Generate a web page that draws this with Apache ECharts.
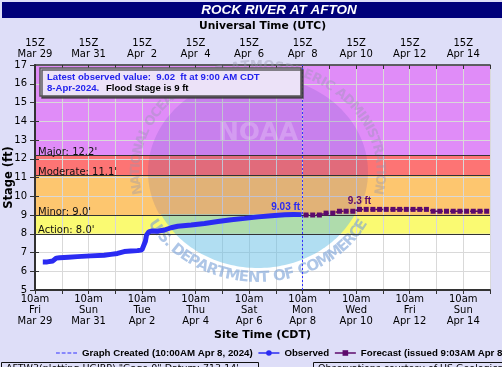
<!DOCTYPE html>
<html><head><meta charset="utf-8">
<script src="https://cdn.jsdelivr.net/npm/echarts@6/dist/echarts.min.js"></script>
<style>html,body{margin:0;padding:0;background:#dedef8;}#c{width:502px;height:367px;}</style>
</head><body><div id="c"></div>
<script>
// ---------------- DATA ----------------
const chartTitle = 'ROCK RIVER AT AFTON';
const obsTimes = ['03-29 17:00','03-29 21:00','03-30 02:00','03-30 05:00','03-30 08:00','03-30 16:00','03-31 00:00','03-31 12:00','04-01 00:00','04-01 06:00','04-01 12:00','04-01 18:00','04-02 00:00','04-02 06:00','04-02 10:00','04-02 11:00','04-02 13:00','04-02 14:00','04-02 16:00','04-02 19:00','04-03 00:00','04-03 06:00','04-03 12:00','04-03 18:00','04-04 06:00','04-04 18:00','04-05 06:00','04-05 18:00','04-06 06:00','04-06 18:00','04-07 06:00','04-07 18:00','04-08 02:00','04-08 09:00'];
const obsStage = [6.50,6.50,6.55,6.70,6.72,6.75,6.78,6.82,6.85,6.90,6.95,7.05,7.08,7.10,7.15,7.25,7.60,7.93,8.10,8.15,8.13,8.20,8.32,8.40,8.47,8.55,8.65,8.75,8.82,8.90,8.96,9.01,9.03,9.02];
const fcstTimes = ['04-08 13:00','04-08 19:00','04-09 01:00','04-09 07:00','04-09 13:00','04-09 19:00','04-10 01:00','04-10 07:00','04-10 13:00','04-10 19:00','04-11 01:00','04-11 07:00','04-11 13:00','04-11 19:00','04-12 01:00','04-12 07:00','04-12 13:00','04-12 19:00','04-13 01:00','04-13 07:00','04-13 13:00','04-13 19:00','04-14 01:00','04-14 07:00','04-14 13:00','04-14 19:00','04-15 01:00','04-15 07:00'];
const fcstStage = [9.0,9.0,9.0,9.1,9.1,9.2,9.2,9.2,9.3,9.3,9.3,9.3,9.3,9.3,9.3,9.3,9.3,9.3,9.3,9.2,9.2,9.2,9.2,9.2,9.2,9.2,9.2,9.2];
const graphCreatedTime = '04-08 10:00';
const floodNames = ['Action','Minor','Moderate','Major'];
const floodLevels = [8.0, 9.0, 11.1, 12.2];
const bottomTimes = ['10am','10am','10am','10am','10am','10am','10am','10am','10am'];
const bottomDays = ['Fri','Sun','Tue','Thu','Sat','Mon','Wed','Fri','Sun'];
const bottomDates = ['Mar 29','Mar 31','Apr 2','Apr 4','Apr 6','Apr 8','Apr 10','Apr 12','Apr 14'];
const topTimes = ['15Z','15Z','15Z','15Z','15Z','15Z','15Z','15Z','15Z'];
const topDates = ['Mar 29','Mar 31','Apr  2','Apr  4','Apr  6','Apr  8','Apr 10','Apr 12','Apr 14'];
const rightTicks = [5,6,7,8,9,10,11,12,13,14];
const stageMin = 5, stageMax = 17;

// ---------------- HELPERS ----------------
const T0 = Date.UTC(2024, 2, 29, 10, 0);
function hrs(s) {
  const m = s.match(/(\d+)-(\d+) (\d+):(\d+)/);
  return (Date.UTC(2024, +m[1]-1, +m[2], +m[3], +m[4]) - T0) / 3600000;
}
const obsData = obsTimes.map((t, i) => [hrs(t), obsStage[i]]);
const fcstData = fcstTimes.map((t, i) => [hrs(t), fcstStage[i]]);
const xMax = 17 * 24;
const DJ = 'DejaVu Sans';
const LB = 'Liberation Sans';

const measureCtx = document.createElement('canvas').getContext('2d');
function arcText(str, cx, cy, rx, ry, startDeg, endDeg, font, color, z, outward) {
  measureCtx.font = font;
  const ws = [...str].map(ch => measureCtx.measureText(ch).width);
  const tot = ws.reduce((a, b) => a + b, 0);
  const a0 = startDeg * Math.PI / 180, a1 = endDeg * Math.PI / 180;
  const span = a1 - a0;
  let acc = 0;
  const els = [];
  [...str].forEach((ch, i) => {
    const ang = a0 + span * (acc + ws[i] / 2) / tot;
    acc += ws[i];
    const nAng = Math.atan2(Math.sin(ang) / ry, Math.cos(ang) / rx);
    const rot = outward ? -(nAng + Math.PI / 2) : (Math.PI / 2 - nAng);
    els.push({ type: 'text', x: cx + rx * Math.cos(ang), y: cy + ry * Math.sin(ang), rotation: rot, z: z, silent: true,
      style: { text: ch, font: font, fill: color, align: 'center', verticalAlign: 'middle' } });
  });
  return els;
}
function ellipseSeg(cx, cy, rx, ry, yCut, upper) {
  const pts = [];
  const d = Math.asin(Math.max(-1, Math.min(1, (yCut - cy) / ry)));
  const aStart = upper ? Math.PI - d : d, aEnd = upper ? 2 * Math.PI + d : Math.PI - d;
  for (let k = 0; k <= 80; k++) {
    const a = aStart + (aEnd - aStart) * k / 80;
    pts.push([cx + rx * Math.cos(a), cy + ry * Math.sin(a)]);
  }
  return pts;
}

// watermark (NOAA-like emblem), drawn between grid and data
const LC = [258, 172];
const watermark = [
  { type: 'polygon', z: 3, silent: true, shape: { points: ellipseSeg(LC[0], LC[1], 110, 96, 214, true) }, style: { fill: 'rgba(60,60,170,0.14)' } },
  { type: 'polygon', z: 3, silent: true, shape: { points: ellipseSeg(LC[0], LC[1], 108, 96, 214, false) }, style: { fill: 'rgba(100,190,230,0.5)' } },
  { type: 'text', z: 3, silent: true, x: LC[0], y: 133, style: { text: 'NOAA', font: 'bold 25px ' + DJ, fill: 'rgba(255,255,255,0.22)', align: 'center', verticalAlign: 'middle' } },
  ...arcText('NATIONAL OCEANIC AND ATMOSPHERIC ADMINISTRATION', LC[0], LC[1], 122, 106, 168, 372, 'bold 13px ' + DJ, 'rgba(150,150,175,0.4)', 3, true),
  ...arcText('U.S. DEPARTMENT OF COMMERCE', LC[0], LC[1], 120, 106, 152, 28, 'bold 15px ' + DJ, 'rgba(120,160,215,0.6)', 3, false)
];

const lastObs = obsStage[obsStage.length - 1];
const infoBox = [
  { type: 'rect', z: 8, silent: true, shape: { x: 40, y: 68, width: 261, height: 28 },
    style: { fill: '#ece2f8', stroke: '#555', lineWidth: 1.5, shadowColor: 'rgba(60,60,60,0.8)', shadowOffsetX: 2, shadowOffsetY: 2 } },
  { type: 'text', z: 9, silent: true, x: 47, y: 72,
    style: { text: '{b|Latest observed value:  ' + lastObs.toFixed(2) + '  ft at 9:00 AM CDT}\n{b|8-Apr-2024.}  {k|Flood Stage is ' + floodLevels[1] + ' ft}',
      rich: { b: { fill: '#2323ee', font: 'bold 9.6px ' + LB, lineHeight: 10 }, k: { fill: '#000', font: 'bold 9.6px ' + LB, lineHeight: 10 } } } }
];

const decor = [
  { type: 'rect', z: 10, silent: true, shape: { x: 2, y: 2, width: 500, height: 16 }, style: { fill: '#00007a' } },
  { type: 'text', z: 11, silent: true, x: 279, y: 10.5, style: { text: chartTitle, font: 'italic bold 13.5px ' + LB, fill: '#fff', align: 'center', verticalAlign: 'middle' } },
  { type: 'rect', z: 10, silent: true, shape: { x: 1.5, y: 362.5, width: 257, height: 20 }, style: { fill: '#dedef8', stroke: '#111', lineWidth: 1 } },
  { type: 'text', z: 11, silent: true, x: 6, y: 364, style: { text: 'AFTW3(plotting HGIRP) "Gage 0" Datum: 713.14\'', font: '9.5px ' + DJ, fill: '#000' } },
  { type: 'rect', z: 10, silent: true, shape: { x: 313.5, y: 362.5, width: 200, height: 20 }, style: { fill: '#dedef8', stroke: '#111', lineWidth: 1 } },
  { type: 'text', z: 11, silent: true, x: 318, y: 364, style: { text: 'Observations courtesy of US Geological Survey', font: '9.5px ' + DJ, fill: '#000' } }
];

const bandColors = ['#ffffff', '#fafa72', '#fdc66f', '#fd7474', '#e08cf8'];
const bandEdges = [stageMin, ...floodLevels, stageMax];

const chart = echarts.init(document.getElementById('c'), null, { renderer: 'canvas' });
chart.setOption({
  animation: false,
  backgroundColor: '#dedef8',
  grid: { left: 35, right: 12, top: 65, bottom: 77, outerBoundsMode: 'none', containLabel: false },
  xAxis: [
    { type: 'value', position: 'bottom', min: 0, max: xMax, interval: 24, z: 2,
      name: 'Site Time (CDT)', nameLocation: 'middle', nameGap: 40, nameMoveOverlap: false,
      nameTextStyle: { fontFamily: DJ, fontWeight: 'bold', fontSize: 11, color: '#000' },
      axisLine: { lineStyle: { color: '#333', width: 2 } },
      axisTick: { length: 4, lineStyle: { color: '#333' } },
      splitLine: { show: true, lineStyle: { color: '#d9d9d9', width: 1 } },
      axisLabel: { margin: 4, fontFamily: DJ, fontSize: 10, color: '#000', lineHeight: 11, showMaxLabel: true,
        formatter: v => { if (v % 48 !== 0) return ''; const i = v / 48; return bottomTimes[i] + '\n' + bottomDays[i] + '\n' + bottomDates[i]; } } },
    { type: 'value', position: 'top', min: 0, max: xMax, interval: 24, z: 2,
      name: 'Universal Time (UTC)', nameLocation: 'middle', nameGap: 33, nameMoveOverlap: false,
      nameTextStyle: { fontFamily: DJ, fontWeight: 'bold', fontSize: 10.7, color: '#000' },
      axisLine: { lineStyle: { color: '#333', width: 1.5 } },
      axisTick: { inside: true, length: 4, lineStyle: { color: '#333' } },
      splitLine: { show: false },
      axisLabel: { margin: 5, fontFamily: DJ, fontSize: 10, color: '#000', lineHeight: 11,
        formatter: v => { if (v % 48 !== 0) return ''; const i = v / 48; return topTimes[i] + '\n' + topDates[i]; } } }
  ],
  yAxis: [
    { type: 'value', min: stageMin, max: stageMax, interval: 1, z: 2,
      name: 'Stage (ft)', nameLocation: 'middle', nameGap: 20, nameRotate: 90, nameMoveOverlap: false,
      nameTextStyle: { fontFamily: DJ, fontWeight: 'bold', fontSize: 11.5, color: '#000' },
      axisLine: { show: true, lineStyle: { color: '#333', width: 2 } },
      axisTick: { show: true, length: 5, lineStyle: { color: '#333' } },
      splitLine: { show: true, lineStyle: { color: '#d9d9d9', width: 1 } },
      axisLabel: { margin: 8, fontFamily: DJ, fontSize: 10, color: '#000' } },
    { type: 'value', position: 'right', min: stageMin, max: stageMax, interval: 1, z: 2,
      axisLine: { show: true, lineStyle: { color: '#333', width: 1.5 } },
      axisTick: { show: true, length: 4, customValues: rightTicks, lineStyle: { color: '#333' } },
      splitLine: { show: false },
      axisLabel: { show: false } }
  ],
  legend: {
    left: 51, top: 343, width: 800, itemGap: 5, itemWidth: 21, itemHeight: 7,
    textStyle: { fontFamily: LB, fontWeight: 'bold', fontSize: 9.7, color: '#000' },
    data: [
      { name: 'Graph Created (10:00AM Apr 8, 2024)', icon: 'path://M0,0h4v1h-4zM6,0h4v1h-4zM12,0h4v1h-4zM18,0h4v1h-4z', itemStyle: { color: '#3333ff' } },
      { name: 'Observed', lineStyle: { width: 1.5 } },
      { name: 'Forecast (issued 9:03AM Apr 8)', lineStyle: { width: 1.5, type: 'solid' } }
    ]
  },
  graphic: { elements: [...watermark, ...infoBox, ...decor] },
  series: [
    { type: 'line', name: 'bands', data: [], z: 1, silent: true,
      markArea: { silent: true, data: bandColors.map((c, i) => [{ yAxis: bandEdges[i], itemStyle: { color: c } }, { yAxis: bandEdges[i + 1] }]) } },
    { type: 'line', name: 'thresholds', data: [], z: 4, silent: true,
      markLine: { silent: true, symbol: 'none', lineStyle: { color: '#333', width: 1, type: 'solid' },
        label: { position: 'insideStartTop', distance: [3, -2], fontFamily: DJ, fontSize: 10, color: '#111',
          formatter: p => p.name + ': ' + p.value.toFixed(1) + '\'' },
        data: floodLevels.map((v, i) => ({ name: floodNames[i], yAxis: v })) } },
    { type: 'line', name: 'Graph Created (10:00AM Apr 8, 2024)', data: [], z: 4, symbol: 'none',
      color: '#3333ff', lineStyle: { color: '#3333ff', type: [2, 2], width: 1 },
      markLine: { silent: true, symbol: 'none', label: { show: false }, lineStyle: { color: '#3333ff', type: [2, 2], width: 1 },
        data: [{ xAxis: hrs(graphCreatedTime) }] } },
    { type: 'line', name: 'Observed', data: obsData, z: 5, color: '#2b2bf2',
      symbol: 'circle', symbolSize: 5, showSymbol: false,
      lineStyle: { width: 5, color: '#2b2bf2' },
      markPoint: { symbol: 'circle', symbolSize: 0, data: [{ type: 'max' }],
        label: { show: true, position: 'top', distance: 2, offset: [-8, 0], fontFamily: LB, fontWeight: 'bold', fontSize: 10, color: '#2b2bf2',
          formatter: p => p.value.toFixed(2) + ' ft' } } },
    { type: 'line', name: 'Forecast (issued 9:03AM Apr 8)', data: fcstData, z: 5, color: '#5c0a6c',
      symbol: 'rect', symbolSize: 5, showSymbol: true,
      itemStyle: { color: '#5c0a6c' },
      lineStyle: { width: 1.5, color: '#5c0a6c', type: [3, 2] },
      markPoint: { symbol: 'circle', symbolSize: 0, data: [{ type: 'max' }],
        label: { show: true, position: 'top', distance: 3, fontFamily: LB, fontWeight: 'bold', fontSize: 10, color: '#5c0a6c',
          formatter: p => p.value.toFixed(1) + ' ft' } } }
  ]
});
</script></body></html>
